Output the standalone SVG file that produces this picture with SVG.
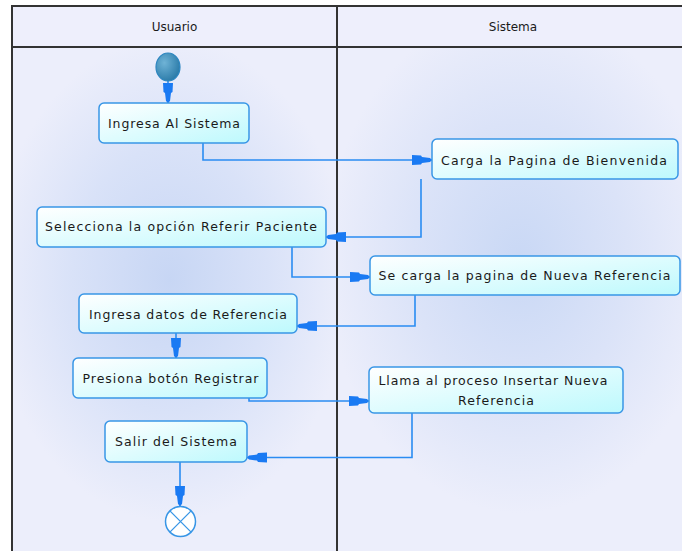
<svg xmlns="http://www.w3.org/2000/svg" width="682" height="551" viewBox="0 0 682 551">
<defs>
<radialGradient id="bgL" cx="170" cy="280" r="210" gradientUnits="userSpaceOnUse" gradientTransform="translate(170 280) scale(0.85 1.15) translate(-170 -280)">
<stop offset="0" stop-color="#c7d6f4"/><stop offset="0.55" stop-color="#d9e2f8"/><stop offset="1" stop-color="#eceefb"/>
</radialGradient>
<radialGradient id="bgR" cx="520" cy="260" r="230" gradientUnits="userSpaceOnUse" gradientTransform="translate(520 260) scale(0.85 1.1) translate(-520 -260)">
<stop offset="0" stop-color="#c9d8f5"/><stop offset="0.55" stop-color="#dbe3f8"/><stop offset="1" stop-color="#eceefb"/>
</radialGradient>
<linearGradient id="box" x1="0" y1="0" x2="1" y2="1">
<stop offset="0" stop-color="#ffffff"/><stop offset="1" stop-color="#bdf9fd"/>
</linearGradient>
<radialGradient id="start" cx="0.35" cy="0.35" r="0.7">
<stop offset="0" stop-color="#6fb3d6"/><stop offset="1" stop-color="#2a7aa8"/>
</radialGradient>
<marker id="arr" viewBox="-21 -6 22 12" refX="0" refY="0" markerWidth="22" markerHeight="12" markerUnits="userSpaceOnUse" orient="auto">
<path d="M-20,-5 L-11,-4.5 L-10,-3 L-2,-2 L0,0 L-2,2 L-10,3 L-11,4.5 L-20,5 Z" fill="#1a7af3"/>
</marker>
<style>
.lane{stroke:#333;stroke-width:2;fill:none}
.hdr{fill:#eeeffc}
.node rect{fill:url(#box);stroke:#3896e6;stroke-width:1.5}
text{font-family:"DejaVu Sans","Liberation Sans",sans-serif;font-size:12.5px;fill:#1a1a1a;text-anchor:middle}
.hdrtext{font-size:12px}
.conn path{fill:none;stroke:#2a8cf2;stroke-width:1.6;marker-end:url(#arr)}
</style>
</defs>
<rect x="0" y="0" width="682" height="551" fill="#ffffff"/>
<g id="swimlanes">
<rect class="hdr" x="12" y="6" width="670" height="41"/>
<rect x="12" y="47" width="325" height="504" fill="url(#bgL)"/>
<rect x="337" y="47" width="345" height="504" fill="url(#bgR)"/>
<path class="lane" d="M12,552 V6 H683 M12,47 H683 M337,6 V552"/>
<text class="hdrtext" x="174.5" y="31">Usuario</text>
<text class="hdrtext" x="513" y="31">Sistema</text>
</g>
<g id="connectors" class="conn">
<path d="M168,80 V103"/>
<path d="M203,143 V160 H432"/>
<path d="M421,179 V237 H326"/>
<path d="M292,247 V277 H370"/>
<path d="M415,295 V326 H297"/>
<path d="M176,333 V358"/>
<path d="M249,398 V401 H369"/>
<path d="M412,413 V457.5 H247"/>
<path d="M180,462 V506"/>
</g>
<g id="start-node">
<ellipse cx="168" cy="67" rx="12" ry="14" fill="url(#start)" stroke="#2d86c0" stroke-width="1.2"/>
</g>
<g id="n1" class="node"><rect x="99" y="103" width="150" height="40" rx="5"/><text x="174" y="127.5" textLength="132">Ingresa Al Sistema</text></g>
<g id="n2" class="node"><rect x="432" y="139" width="246" height="40" rx="5"/><text x="554" y="164.5" textLength="226">Carga la Pagina de Bienvenida</text></g>
<g id="n3" class="node"><rect x="37" y="207" width="289" height="40" rx="5"/><text x="181" y="231" textLength="272">Selecciona la opción Referir Paciente</text></g>
<g id="n4" class="node"><rect x="370" y="256" width="310" height="39" rx="5"/><text x="524.5" y="280" textLength="292">Se carga la pagina de Nueva Referencia</text></g>
<g id="n5" class="node"><rect x="79" y="294" width="218" height="39" rx="5"/><text x="188" y="318.5" textLength="198">Ingresa datos de Referencia</text></g>
<g id="n6" class="node"><rect x="73" y="358" width="194" height="40" rx="5"/><text x="170.5" y="382.5" textLength="176">Presiona botón Registrar</text></g>
<g id="n7" class="node"><rect x="369" y="367" width="254" height="46" rx="5"/><text x="493" y="385" textLength="229">Llama al proceso Insertar Nueva</text><text x="496" y="404.5" textLength="76">Referencia</text></g>
<g id="n8" class="node"><rect x="105" y="421" width="142" height="41" rx="5"/><text x="176" y="446" textLength="122">Salir del Sistema</text></g>
<g id="end-node">
<circle cx="180.5" cy="521.5" r="15" fill="#ffffff" stroke="#3896e6" stroke-width="1.5"/>
<path d="M169.9,510.9 L191.1,532.1 M191.1,510.9 L169.9,532.1" stroke="#3896e6" stroke-width="1.3"/>
</g>
</svg>
